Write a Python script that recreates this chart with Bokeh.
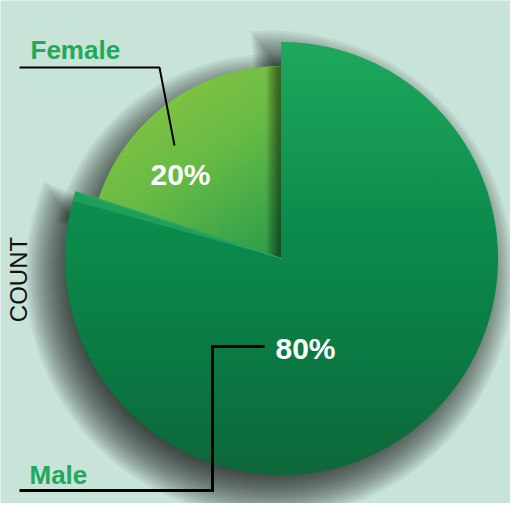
import numpy as np
from bokeh.plotting import figure
from bokeh.models import Range1d
from bokeh.core.properties import value
from bokeh.embed import file_html
from bokeh.resources import INLINE

# ---------------- data ----------------
categories = ["Male", "Female"]
counts = [80, 20]
pct_labels = ["80%", "20%"]
axis_label = "COUNT"

# ---------------- style ----------------
W, H = 510, 503
BG = "#c8e3d8"
CX, CY = 289, 253            # pie centre (data coords = screen px, y up)
RADII = {"Male": 216, "Female": 192}
GRAD_DIR = {"Male": (0.0, -1.0), "Female": (0.55, -0.83)}
STOPS = {
    "Male": [(0.0, "#1fa85d"), (0.45, "#0b8a4b"), (0.72, "#0b7a43"), (1.0, "#0e673a")],
    "Female": [(0.0, "#7cc243"), (0.35, "#68bb45"), (0.75, "#40a84a"), (1.0, "#2c9b4a")],
}
LABEL_GREEN = "#21a95b"
FONT = value("Liberation Sans")


def hex2rgb(h):
    h = h.lstrip("#")
    return np.array([int(h[i:i + 2], 16) for i in (0, 2, 4)], dtype=float)


def ramp(stops, f):
    for (p0, c0), (p1, c1) in zip(stops[:-1], stops[1:]):
        if f <= p1:
            t = (f - p0) / (p1 - p0) if p1 > p0 else 0
            c = hex2rgb(c0) * (1 - t) + hex2rgb(c1) * t
            return "#%02x%02x%02x" % tuple(int(round(v)) for v in c)
    return stops[-1][1]


def wedge_poly(cx, cy, r, a0, a1, n=240):
    t = np.radians(np.linspace(a0, a1, n))
    xs = np.concatenate([[cx], cx + r * np.cos(t)])
    ys = np.concatenate([[cy], cy + r * np.sin(t)])
    return list(zip(xs, ys))


def convex_pieces(cx, cy, r, a0, a1):
    """split a wedge into convex pieces (<= 180 deg each)"""
    k = int(np.ceil((a1 - a0) / 180.0))
    edges = np.linspace(a0, a1, k + 1)
    return [wedge_poly(cx, cy, r, e0, e1, n=max(20, int(240 * (e1 - e0) / 360)))
            for e0, e1 in zip(edges[:-1], edges[1:])]


def clip(poly, nx, ny, c):
    out = []
    n = len(poly)
    for i in range(n):
        p, q = poly[i], poly[(i + 1) % n]
        fp = nx * p[0] + ny * p[1] - c
        fq = nx * q[0] + ny * q[1] - c
        if fp >= 0:
            out.append(p)
        if (fp >= 0) != (fq >= 0):
            s = fp / (fp - fq)
            out.append((p[0] + s * (q[0] - p[0]), p[1] + s * (q[1] - p[1])))
    return out


# angles: start at 12 o'clock, clockwise
total = float(sum(counts))
angles = {}
cum = 0.0
for cat, v in zip(categories, counts):
    a_start = 90 - 360 * cum / total
    cum += v
    a_end = 90 - 360 * cum / total
    angles[cat] = (a_end, a_start)   # anticlockwise from a_end to a_start

p = figure(width=W, height=H, output_backend="svg", toolbar_location=None,
           x_range=Range1d(8, 8 + W), y_range=Range1d(519 - 8 - H, 519 - 8),
           x_axis_type=None, y_axis_type=None, min_border=0,
           background_fill_color=BG, border_fill_color="white",
           outline_line_color=None)
p.grid.visible = False

# ---- soft drop shadow (blurred via stacked translucent layers) ----
SH_DX, SH_DY, N_SH = -12, -16, 27
for cat in categories:
    a0, a1 = angles[cat]
    r = RADII[cat]
    xs, ys = [], []
    for k in range(N_SH):
        rr = r - 24 + 2 * k
        ext = (k - N_SH / 2) * 0.35
        poly = wedge_poly(CX + SH_DX, CY + SH_DY, rr, a0 - ext, a1 + ext)
        xs.append([q[0] for q in poly])
        ys.append([q[1] for q in poly])
    p.patches(xs, ys, fill_color="black", fill_alpha=0.045, line_color=None)

# ---- slices with gradient bands (female behind, male on top) ----
N_BANDS = 60
for cat in ["Female", "Male"]:
    a0, a1 = angles[cat]
    pieces = convex_pieces(CX, CY, RADII[cat], a0, a1)
    dx, dy = GRAD_DIR[cat]
    allpts = [q for pc in pieces for q in pc]
    tv = [dx * x + dy * y for x, y in allpts]
    edges = np.linspace(min(tv), max(tv), N_BANDS + 1)
    xs, ys, cols = [], [], []
    for pc in pieces:
        for k in range(N_BANDS):
            sub = clip(pc, dx, dy, edges[k])
            sub = clip(sub, -dx, -dy, -edges[k + 1])
            if len(sub) >= 3:
                col = ramp(STOPS[cat], (k + 0.5) / N_BANDS)
                xs.append([q[0] for q in sub])
                ys.append([q[1] for q in sub])
                cols.append(col)
    p.patches(xs, ys, fill_color=cols, line_color=cols, line_width=1.0)

    if cat == "Female":
        # darkening along the raised edge of the male slice
        poly = wedge_poly(CX, CY, RADII[cat], a0, a1)
        xs, ys = [], []
        for k in range(14):
            sub = clip(poly, 1, 0, CX - 15 + k)
            if len(sub) >= 3:
                xs.append([q[0] for q in sub])
                ys.append([q[1] for q in sub])
        p.patches(xs, ys, fill_color="black", fill_alpha=0.045, line_color=None)

# ---- bevel strip on the male slice's cut edge ----
m_a0 = angles["Male"][0]
bev = wedge_poly(CX, CY, RADII["Male"], m_a0, m_a0 + 2.5, n=20)
p.patch([q[0] for q in bev], [q[1] for q in bev], fill_color="#1e9f5a", line_color=None)
edge_x = [CX, CX + RADII["Male"] * np.cos(np.radians(m_a0))]
edge_y = [CY, CY + RADII["Male"] * np.sin(np.radians(m_a0))]
p.line(edge_x, edge_y, line_color="#3fae78", line_width=1, line_alpha=0.8)

# ---- leader lines ----
p.line([27, 167, 182], [444, 444, 366], line_color="black", line_width=2)
p.line([272, 220, 220, 27], [165, 165, 21, 21], line_color="black", line_width=3,
       line_join="miter")

# ---- labels ----
p.text(x=[38, 37], y=[461.5, 36.5], text=[categories[1], categories[0]],
       text_font=FONT, text_font_style="bold", text_font_size="26px",
       text_color=LABEL_GREEN, text_align="left", text_baseline="middle")
p.text(x=[188, 313], y=[337.5, 163], text=[pct_labels[1], pct_labels[0]],
       text_font=FONT, text_font_style="bold", text_font_size="30px",
       text_color="white", text_align="center", text_baseline="middle")
p.text(x=[26], y=[232], text=[axis_label], angle=np.pi / 2,
       text_font=FONT, text_font_size="24px", text_color="#111111",
       text_align="center", text_baseline="middle")

open("out.html", "w").write(file_html(p, INLINE))
